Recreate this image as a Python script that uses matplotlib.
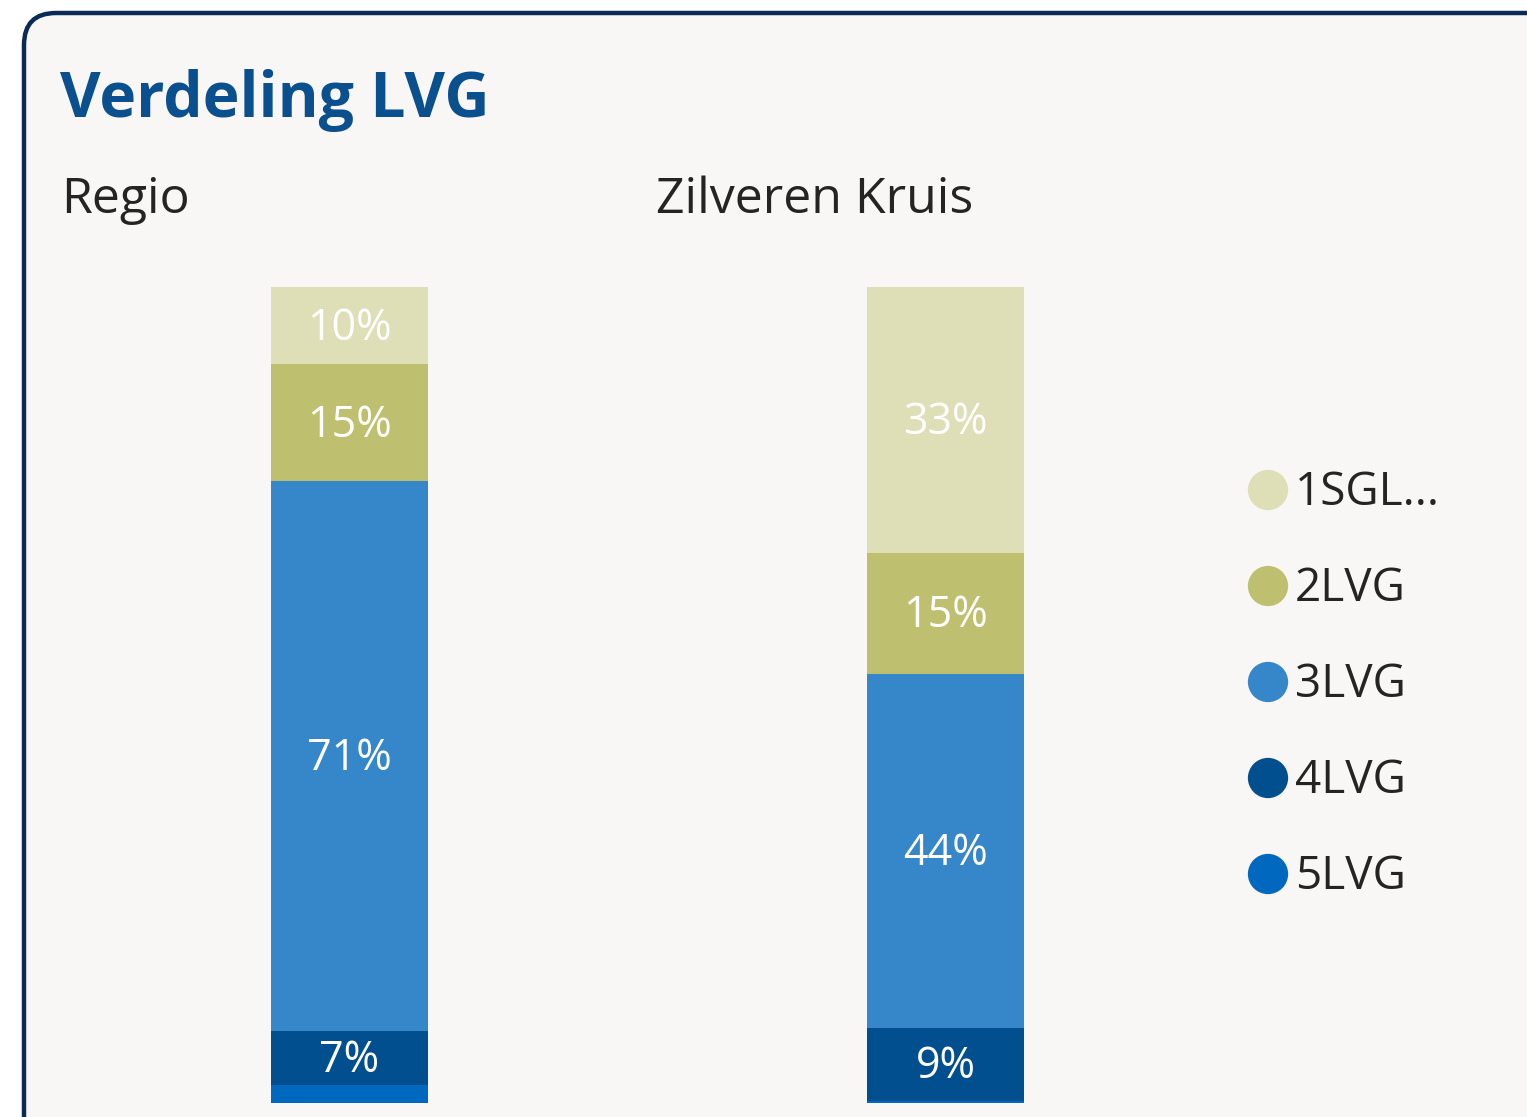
import matplotlib
matplotlib.use("Agg")
import matplotlib.pyplot as plt
from matplotlib.patches import FancyBboxPatch
import numpy as np

# ---- data ----
groups = ["Regio", "Zilveren Kruis"]
series = ["1SGL...", "2LVG", "3LVG", "4LVG", "5LVG"]
regio_values = [10, 15, 71, 7, 2.3]
zk_values = [33, 15, 44, 9, 0.3]
colors = ["#DEDFB6", "#BFC06F", "#3587CA", "#024F8F", "#0069BF"]
title = "Verdeling LVG"

W, H = 1527, 1117
fig = plt.figure(figsize=(W / 100, H / 100), dpi=100)
fig.patch.set_facecolor("white")

FONT = ["Open Sans", "DejaVu Sans"]

# overlay axes in pixel coordinates for frame / title / legend
ov = fig.add_axes([0, 0, 1, 1])
ov.set_xlim(0, W)
ov.set_ylim(H, 0)
ov.axis("off")
box = FancyBboxPatch((24, 13), 1540, 1150, boxstyle="round,pad=0,rounding_size=32",
                     facecolor="#F8F7F5", edgecolor="#0A2B57", linewidth=3.2, zorder=0)
ov.add_patch(box)
ov.text(60, 101, title, fontsize=45, fontweight="bold", color="#0A4F8E",
        family=FONT, va="center", ha="left")
ov.text(61, 200, groups[0], fontsize=36, color="#252423", family=FONT, va="center", ha="left")
ov.text(656, 200, groups[1], fontsize=36, color="#252423", family=FONT, va="center", ha="left")

# legend
leg_y0, leg_dy = 490, 96
for i, (s, c) in enumerate(zip(series, colors)):
    y = leg_y0 + i * leg_dy
    ov.scatter([1268], [y], s=(29) ** 2, color=c, zorder=3, edgecolors="none")
    ov.text(1295, y + 3, s, fontsize=33, color="#252423", family=FONT, va="center", ha="left")

# bar axes
ax = fig.add_axes([51.5 / W, 1 - 1103 / H, 1192 / W, 816 / H])
ax.set_xlim(-0.5, 1.5)
ax.set_ylim(0, 100)
ax.axis("off")
ax.patch.set_alpha(0)

data = np.array([regio_values, zk_values])
totals = data.sum(axis=1)
norm = data / totals[:, None] * 100
x = np.arange(len(groups))
width = 157 / 596
top = np.full(len(groups), 100.0)
for j in range(len(series)):
    h = norm[:, j]
    bottom = top - h
    ax.bar(x, h, width, bottom=bottom, color=colors[j], edgecolor="none")
    for i in range(len(groups)):
        if data[i, j] >= 5:
            ax.annotate(f"{data[i, j]:.0f}%", (x[i], bottom[i] + h[i] / 2),
                        xytext=(0, -2), textcoords="offset points",
                        ha="center", va="center",
                        fontsize=31, color="white", family=FONT)
    top = bottom

fig.savefig("out.png", dpi=100, facecolor=fig.get_facecolor())
